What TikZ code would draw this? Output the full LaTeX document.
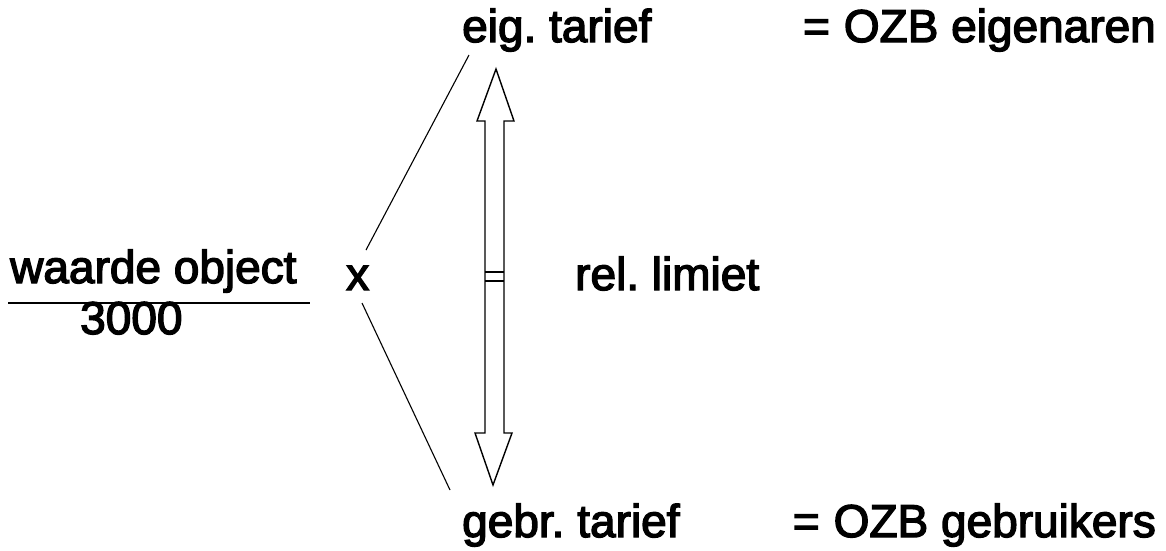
\documentclass[tikz,border=0pt]{standalone}
\usepackage{fontspec}
\setmainfont{Liberation Sans}[BoldFont={Liberation Sans},BoldFeatures={FakeBold=3}]
\begin{document}
\begin{tikzpicture}[x=1pt,y=-1pt,
  lbl/.style={inner sep=0pt, font=\fontsize{46}{50}\selectfont\bfseries\frenchspacing},
  thinline/.style={line width=1.1pt, black},
  outline/.style={line width=1.4pt, black, line join=miter}]
\useasboundingbox (0,0) rectangle (1166,550);
% texts
\node[lbl, anchor=base west] (eig) at (462,42) {eig. tarief};
\node[lbl, anchor=base east] (ozbe) at (1156,42) {=\hspace{14pt}OZB eigenaren};
\node[lbl, anchor=base west] (waarde) at (10,283) {waarde object};
\node[lbl, anchor=base west] (drie) at (80,334) {3000};
\node[lbl, anchor=base west] (x) at (346,290) {x};
\node[lbl, anchor=base west] (rel) at (575,290) {rel. limiet};
\node[lbl, anchor=base west] (gebr) at (462,537) {gebr. tarief};
\node[lbl, anchor=base east] (ozbg) at (1156,537) {=\hspace{14pt}OZB gebruikers};
% fraction rule
\coordinate (fl) at (8,303);
\coordinate (fr) at (310,303);
\draw[line width=1.2pt] (fl) -- (fr);
% connectors
\coordinate (xt) at (366,250);
\coordinate (et) at (469,55);
\coordinate (xb) at (362,303);
\coordinate (gt) at (450,490);
\draw[thinline] (xt) -- (et);
\draw[thinline] (xb) -- (gt);
% double arrow outline
\draw[outline, fill=white]
  (496,69) -- (514,121) -- (504,121) -- (504,433) -- (512,433) -- (493,485)
  -- (475,433) -- (485,433) -- (485,121) -- (477,121) -- cycle;
\draw[outline] (485,272) -- (504,272);
\draw[outline] (485,281) -- (504,281);
\end{tikzpicture}
\end{document}
